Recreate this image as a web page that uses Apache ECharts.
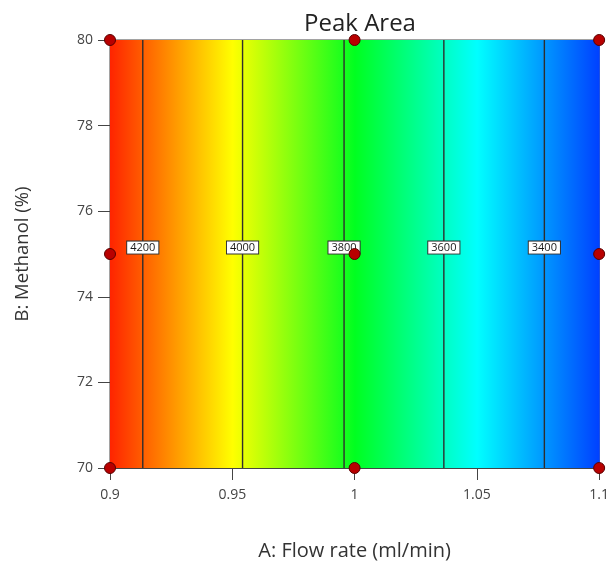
<!DOCTYPE html>
<html>
<head>
<meta charset="utf-8">
<script src="https://cdn.jsdelivr.net/npm/echarts@6/dist/echarts.min.js"></script>
<style>html,body{margin:0;padding:0;background:#fff}#c{width:612px;height:566px}</style>
</head>
<body>
<div id="c"></div>
<script>
// ---- data ----
var flowBreaks = [0.9, 0.9134, 0.9542, 0.9957, 1.0365, 1.0776, 1.1];
var areaAtBreaks = [4265, 4200, 4000, 3800, 3600, 3400, 3290];
var contourLevels = [4200, 4000, 3800, 3600, 3400];
var contourFlow = [0.9134, 0.9542, 0.9957, 1.0365, 1.0776];
var labelMethanol = 75.15;
var designFlow = [0.9, 0.9, 0.9, 1.0, 1.0, 1.0, 1.1, 1.1, 1.1];
var designMethanol = [70, 75, 80, 70, 75, 80, 70, 75, 80];
var xTicks = [0.9, 0.95, 1, 1.05, 1.1];
var yTicks = [70, 72, 74, 76, 78, 80];
// colour map (value -> colour)
var cmapValues = [3290, 3534, 3778, 4021, 4265];
var cmapColors = ['#0040ff', '#00ffff', '#00ff20', '#ffff00', '#ff2400'];

function hexToRgb(h){return [parseInt(h.substr(1,2),16),parseInt(h.substr(3,2),16),parseInt(h.substr(5,2),16)];}
function colorAt(v){
  if (v <= cmapValues[0]) return cmapColors[0];
  for (var i = 1; i < cmapValues.length; i++) {
    if (v <= cmapValues[i]) {
      var t = (v - cmapValues[i-1]) / (cmapValues[i] - cmapValues[i-1]);
      var a = hexToRgb(cmapColors[i-1]), b = hexToRgb(cmapColors[i]);
      return 'rgb(' + Math.round(a[0]+(b[0]-a[0])*t) + ',' + Math.round(a[1]+(b[1]-a[1])*t) + ',' + Math.round(a[2]+(b[2]-a[2])*t) + ')';
    }
  }
  return cmapColors[cmapColors.length-1];
}

var strips = [];
for (var i = 0; i < flowBreaks.length - 1; i++) {
  strips.push([flowBreaks[i], flowBreaks[i+1], areaAtBreaks[i], areaAtBreaks[i+1]]);
}

var chart = echarts.init(document.getElementById('c'), null, {renderer: 'canvas'});
var FONT = 'Open Sans';

var series = [];
series.push({
  type: 'custom',
  data: strips,
  silent: true,
  z: 1,
  renderItem: function (params, api) {
    var x0 = api.value(0), x1 = api.value(1), v0 = api.value(2), v1 = api.value(3);
    var p0 = api.coord([x0, 80]), p1 = api.coord([x1, 70]);
    var stops = [{offset: 0, color: colorAt(v0)}];
    for (var k = 0; k < cmapValues.length; k++) {
      var cv = cmapValues[k];
      if (cv < v0 && cv > v1) stops.push({offset: (v0 - cv) / (v0 - v1), color: cmapColors[k]});
    }
    stops.sort(function(a,b){return a.offset-b.offset;});
    stops.push({offset: 1, color: colorAt(v1)});
    return {
      type: 'rect',
      shape: {x: p0[0], y: p0[1], width: p1[0] - p0[0] + 0.6, height: p1[1] - p0[1]},
      style: {fill: new echarts.graphic.LinearGradient(0, 0, 1, 0, stops)}
    };
  }
});

contourLevels.forEach(function (lv, i) {
  series.push({
    type: 'line',
    data: [[contourFlow[i], 70], [contourFlow[i], 80]],
    symbol: 'none',
    silent: true,
    z: 3,
    lineStyle: {color: '#2e2e2e', width: 1.4}
  });
});

// contour labels drawn as text boxes at data positions
series.push({
  type: 'custom',
  data: contourLevels.map(function (lv, i) { return [contourFlow[i], labelMethanol, lv]; }),
  silent: true,
  z: 5,
  renderItem: function (params, api) {
    var p = api.coord([api.value(0), api.value(1)]);
    return {
      type: 'text',
      x: p[0], y: p[1],
      style: {
        text: String(api.value(2)),
        align: 'center', verticalAlign: 'middle',
        font: '11px "Open Sans"',
        fill: '#1a1a1a',
        backgroundColor: '#ffffff',
        borderColor: '#333',
        borderWidth: 1,
        padding: [1, 3, 0, 3]
      }
    };
  }
});

series.push({
  type: 'scatter',
  data: designFlow.map(function (f, i) { return [f, designMethanol[i]]; }),
  symbolSize: 11,
  silent: true,
  z: 10,
  itemStyle: {color: '#b80000', borderColor: '#5a0000', borderWidth: 1, opacity: 1}
});

chart.setOption({
  animation: false,
  title: {
    text: 'Peak Area',
    left: 355, textAlign: 'center', top: 7,
    textStyle: {fontFamily: FONT, fontSize: 24, fontWeight: 'normal', color: '#222'}
  },
  grid: {left: 110, right: 11, top: 40, bottom: 96, show: true, borderColor: '#444', borderWidth: 1, backgroundColor: 'transparent'},
  xAxis: {
    type: 'value', min: 0.9, max: 1.1, interval: 0.05,
    name: 'A: Flow rate (ml/min)', nameLocation: 'middle', nameGap: 73,
    nameTextStyle: {fontFamily: FONT, fontSize: 20, color: '#333'},
    axisLine: {show: true, onZero: false, lineStyle: {color: '#444'}},
    axisTick: {show: true, length: 12, lineStyle: {color: '#444'}},
    axisLabel: {fontFamily: FONT, fontSize: 14, color: '#444', margin: 20,
      formatter: function (v) { return xTicks.indexOf(Math.round(v*100)/100) >= 0 ? String(Math.round(v*100)/100) : ''; }},
    splitLine: {show: false}
  },
  yAxis: {
    type: 'value', min: 70, max: 80, interval: 2,
    name: 'B: Methanol (%)', nameLocation: 'middle', nameGap: 78, nameRotate: 90,
    nameTextStyle: {fontFamily: FONT, fontSize: 18.5, color: '#333'},
    axisLine: {show: true, onZero: false, lineStyle: {color: '#444'}},
    axisTick: {show: true, length: 12, lineStyle: {color: '#444'}},
    axisLabel: {fontFamily: FONT, fontSize: 14, color: '#444', margin: 17,
      formatter: function (v) { return yTicks.indexOf(v) >= 0 ? String(v) : ''; }},
    splitLine: {show: false}
  },
  series: series
});
</script>
</body>
</html>
